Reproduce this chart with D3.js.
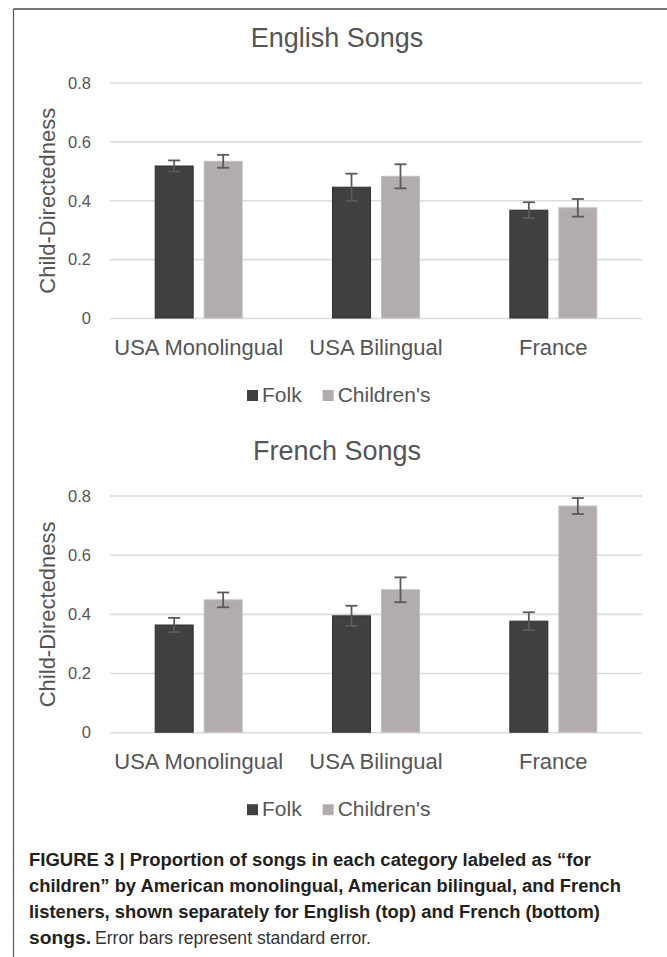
<!DOCTYPE html>
<html>
<head>
<meta charset="utf-8">
<script src="https://cdn.jsdelivr.net/npm/d3@7"></script>
<style>
  html, body { margin: 0; padding: 0; background: #fff; }
  svg { display: block; }
</style>
</head>
<body>
<script>
// ---- data ----
const categories = ["USA Monolingual", "USA Bilingual", "France"];
const series = ["Folk", "Children's"];
const yTicks = [0, 0.2, 0.4, 0.6, 0.8];
const chartTitles = ["English Songs", "French Songs"];
const yAxisTitle = "Child-Directedness";

const englishFolk = [0.518, 0.446, 0.368];
const englishFolkSE = [0.019, 0.046, 0.027];
const englishChildren = [0.534, 0.483, 0.376];
const englishChildrenSE = [0.022, 0.041, 0.030];

const frenchFolk = [0.364, 0.395, 0.377];
const frenchFolkSE = [0.024, 0.034, 0.030];
const frenchChildren = [0.449, 0.483, 0.766];
const frenchChildrenSE = [0.025, 0.042, 0.027];

const captionBold = [
  "FIGURE 3 | Proportion of songs in each category labeled as \u201cfor",
  "children\u201d by American monolingual, American bilingual, and French",
  "listeners, shown separately for English (top) and French (bottom)",
  "songs."
];
const captionPlain = " Error bars represent standard error.";

// ---- drawing ----
const W = 667, H = 957;
const FONT = "'Liberation Sans', Arial, Helvetica, sans-serif";
const TXT = "#555555";
const colors = { "Folk": "#404040", "Children's": "#b2adac" };
const strokes = { "Folk": "#303030", "Children's": "#c2bebd" };

const svg = d3.select("body").append("svg").attr("width", W).attr("height", H)
  .style("font-family", FONT);

// frame (top and left edges only)
svg.append("line").attr("x1", 13.5).attr("x2", W).attr("y1", 9).attr("y2", 9)
  .attr("stroke", "#4a4a4a").attr("stroke-width", 1.5);
svg.append("line").attr("x1", 13.5).attr("x2", 13.5).attr("y1", 9).attr("y2", H)
  .attr("stroke", "#5a5a5a").attr("stroke-width", 1.2);

const panels = [
  { title: chartTitles[0], folk: englishFolk, folkSE: englishFolkSE, ch: englishChildren, chSE: englishChildrenSE,
    y0: 318.5, y1: 83, titleY: 46.5 },
  { title: chartTitles[1], folk: frenchFolk, folkSE: frenchFolkSE, ch: frenchChildren, chSE: frenchChildrenSE,
    y0: 732.7, y1: 496, titleY: 460 }
];

const plotL = 110, plotR = 642;

panels.forEach(p => {
  const g = svg.append("g");
  const x0 = d3.scaleBand().domain(categories).range([plotL, plotR]);
  const bw = x0.bandwidth();
  const gw = bw * 0.496;
  const x1 = d3.scaleBand().domain(series).range([bw / 2 - gw / 2, bw / 2 + gw / 2]).paddingInner(0.204);
  const y = d3.scaleLinear().domain([0, 0.8]).range([p.y0, p.y1]);

  // title
  g.append("text").attr("x", 337).attr("y", p.titleY).attr("text-anchor", "middle")
    .attr("font-size", 27).attr("fill", TXT).text(p.title);

  // gridlines
  g.selectAll(".grid").data(yTicks).enter().append("line")
    .attr("x1", plotL).attr("x2", plotR)
    .attr("y1", d => y(d)).attr("y2", d => y(d))
    .attr("stroke", "#dcdcdc").attr("stroke-width", 1.6);

  // y axis via d3 axis (labels only)
  const yAxis = d3.axisLeft(y).tickValues(yTicks).tickSize(0).tickPadding(0)
    .tickFormat(d => d === 0 ? "0" : d3.format(".1f")(d));
  const ya = g.append("g").attr("transform", `translate(91,0)`).call(yAxis);
  ya.select(".domain").remove();
  ya.selectAll("text").attr("font-size", 16.5).attr("fill", TXT).style("font-family", FONT);

  // y title
  g.append("text").attr("transform", `translate(55,${(p.y0 + p.y1) / 2}) rotate(-90)`)
    .attr("text-anchor", "middle").attr("font-size", 22).attr("fill", TXT).text(yAxisTitle);

  // x axis labels
  const xAxis = d3.axisBottom(x0).tickSize(0).tickPadding(0);
  const xa = g.append("g").attr("transform", `translate(0,${p.y0 + 36.5})`).call(xAxis);
  xa.select(".domain").remove();
  xa.selectAll("text").attr("font-size", 22).attr("fill", TXT).attr("dy", 0).style("font-family", FONT);

  // bars
  const rows = categories.map((c, i) => ({
    c,
    vals: [
      { s: series[0], v: p.folk[i], e: p.folkSE[i] },
      { s: series[1], v: p.ch[i], e: p.chSE[i] }
    ]
  }));
  const grp = g.selectAll(".grp").data(rows).enter().append("g")
    .attr("transform", d => `translate(${x0(d.c)},0)`);
  grp.selectAll("rect").data(d => d.vals).enter().append("rect")
    .attr("x", d => x1(d.s) + 0.5).attr("width", x1.bandwidth() - 1)
    .attr("y", d => y(d.v)).attr("height", d => y(0) - y(d.v) - 0.5)
    .attr("fill", d => colors[d.s]).attr("stroke", d => strokes[d.s]).attr("stroke-width", 1);

  // error bars
  const eb = grp.selectAll(".eb").data(d => d.vals).enter().append("g")
    .attr("stroke", "#5a5a5a").attr("stroke-width", 1.8);
  const cx = d => x1(d.s) + x1.bandwidth() / 2;
  eb.append("line").attr("x1", cx).attr("x2", cx).attr("y1", d => y(d.v + d.e)).attr("y2", d => y(d.v - d.e));
  eb.append("line").attr("x1", d => cx(d) - 6).attr("x2", d => cx(d) + 6).attr("y1", d => y(d.v + d.e)).attr("y2", d => y(d.v + d.e));
  eb.append("line").attr("x1", d => cx(d) - 6).attr("x2", d => cx(d) + 6).attr("y1", d => y(d.v - d.e)).attr("y2", d => y(d.v - d.e));

  // legend
  const legY = p.y0 + 83.5;
  const leg = g.append("g");
  let lx = 247;
  series.forEach((s, i) => {
    leg.append("rect").attr("x", lx).attr("y", legY - 12).attr("width", 11).attr("height", 11)
      .attr("fill", colors[s]);
    const t = leg.append("text").attr("x", lx + 15).attr("y", legY).attr("font-size", 21)
      .attr("fill", TXT).text(s);
    const len = t.node().getComputedTextLength();
    lx = lx + 15 + len + 21;
  });
});

// caption
const capBase = [866, 892, 918, 944];
const capWidths = [562, 592, 571];
captionBold.forEach((line, i) => {
  const t = svg.append("text").attr("x", 29).attr("y", capBase[i])
    .attr("font-size", 18).attr("font-weight", "bold").attr("fill", "#231f20");
  if (i < 3) {
    t.attr("textLength", capWidths[i]).attr("lengthAdjust", "spacingAndGlyphs").text(line);
  } else {
    t.append("tspan").text(line).attr("textLength", 62).attr("lengthAdjust", "spacingAndGlyphs");
  }
});
svg.append("text").attr("x", 95).attr("y", capBase[3]).attr("font-size", 18)
  .attr("fill", "#333").attr("textLength", 276).attr("lengthAdjust", "spacingAndGlyphs").text(captionPlain.trim());
</script>
</body>
</html>
